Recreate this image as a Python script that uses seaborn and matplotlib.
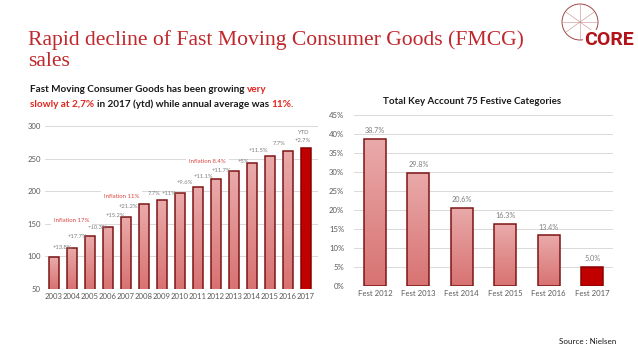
import numpy as np
import pandas as pd
import matplotlib
matplotlib.use("Agg")
import matplotlib.pyplot as plt
import seaborn as sns
from matplotlib.colors import LinearSegmentedColormap
from matplotlib.patches import Circle
from matplotlib.lines import Line2D

# ---------------- data ----------------
years = ["2003", "2004", "2005", "2006", "2007", "2008", "2009", "2010",
         "2011", "2012", "2013", "2014", "2015", "2016", "2017"]
fmcg_index = [99, 113, 131, 145, 160, 180, 186, 197, 206, 219, 231, 243, 254, 262, 266]

growth_labels = ["+13.8%", "+17.7%", "+10.3%", "+15.2%", "+21.2%", "7.7%", "+11%",
                 "+9.6%", "+11.1%", "+11.7%", "+5%", "+11.5%", "7.7%", "YTD\n+2.7%"]
growth_x = [0.46, 1.32, 2.43, 3.39, 4.13, 5.57, 6.37, 7.28, 8.29, 9.3, 10.5, 11.39, 12.5, 13.8]
growth_y = [114, 130, 145, 163, 177, 197, 196, 213, 223, 232, 246, 263, 273, 284]

inflation_labels = ["Inflation 17%", "Inflation 11%", "Inflation 8.4%"]
inflation_x = [0.98, 3.76, 8.54]
inflation_y = [155.5, 192.3, 244.8]

fest_cats = ["Fest 2012", "Fest 2013", "Fest 2014", "Fest 2015", "Fest 2016", "Fest 2017"]
fest_growth = [38.7, 29.8, 20.6, 16.3, 13.4, 5.0]

left_ticks = [50, 100, 150, 200, 250, 300]
right_ticks = [0, 5, 10, 15, 20, 25, 30, 35, 40, 45]

# ---------------- style ----------------
sns.set_theme(style="white")
plt.rcParams["font.family"] = ["Lato", "DejaVu Sans"]

RED = "#c0282d"
EDGE = "#7d1515"
DARK = "#c00000"
GRAY = "#595959"
GRID = "#d9d9d9"
grad_cmap = LinearSegmentedColormap.from_list("g", ["#d87272", "#eaaaaa"])

W, H = 638, 359
fig = plt.figure(figsize=(W / 100, H / 100), dpi=100)
fig.patch.set_facecolor("white")


def fx(px):
    return px / W


def fy(py):
    return 1 - py / H


def gradient_bars(ax, patches, last_color, ymin):
    grad = np.linspace(0, 1, 256).reshape(-1, 1)
    for i, p in enumerate(patches):
        p.set_edgecolor(EDGE if i < len(patches) - 1 else "#8b0000")
        p.set_linewidth(1.1)
        if i == len(patches) - 1:
            p.set_facecolor(last_color)
            continue
        x0, y0, w, h = p.get_x(), p.get_y(), p.get_width(), p.get_height()
        lo = max(y0, ymin)
        im = ax.imshow(grad, extent=[x0, x0 + w, lo, y0 + h], origin="lower",
                       cmap=grad_cmap, aspect="auto", zorder=p.get_zorder() - 0.01,
                       interpolation="bilinear")
        im.set_clip_path(p)
        p.set_facecolor("none")


def style_axes(ax):
    for s in ax.spines.values():
        s.set_visible(False)
    ax.grid(axis="y", color=GRID, linewidth=0.7)
    ax.grid(axis="x", visible=False)
    ax.set_axisbelow(True)
    ax.tick_params(axis="both", length=0, colors=GRAY, labelsize=5.6, pad=3)
    ax.set_xlabel("")
    ax.set_ylabel("")
    ax.set_facecolor("none")


# ---------------- left chart ----------------
axL = fig.add_axes([fx(45), fy(289), fx(318 - 45), (289 - 126) / H])
dfL = pd.DataFrame({"year": years, "value": fmcg_index})
sns.barplot(data=dfL, x="year", y="value", ax=axL, color="#e09090", width=0.53,
            saturation=1)
gradient_bars(axL, list(axL.patches), DARK, 50)
axL.set_xlim(-0.5, 14.67)
axL.set_ylim(50, 300)
axL.set_yticks(left_ticks)
axL.set_yticklabels([str(t) for t in left_ticks])
style_axes(axL)

for s, x, y in zip(growth_labels, growth_x, growth_y):
    axL.text(x, y, s, fontsize=4.2, color="#7f7f7f", ha="center", va="center",
             linespacing=1.6)
for s, x, y in zip(inflation_labels, inflation_x, inflation_y):
    axL.text(x, y, s, fontsize=4.3, color="#d9453f", ha="center", va="center",
             bbox=dict(boxstyle="square,pad=0.5", fc="white", ec="none"), zorder=5)

# ---------------- right chart ----------------
axR = fig.add_axes([fx(354), fy(286), fx(613 - 354), (286 - 115) / H])
dfR = pd.DataFrame({"cat": fest_cats, "growth": fest_growth})
sns.barplot(data=dfR, x="cat", y="growth", ax=axR, color="#e09090", width=0.5,
            saturation=1)
gradient_bars(axR, list(axR.patches), DARK, 0)
axR.set_xlim(-0.48, 5.48)
axR.set_ylim(0, 45)
axR.set_yticks(right_ticks)
axR.set_yticklabels([f"{t}%" for t in right_ticks])
style_axes(axR)
axR.tick_params(axis="y", pad=7)
for i, v in enumerate(fest_growth):
    axR.text(i, v + 1.2, f"{v:.1f}%", fontsize=5.2, color="#7f7f7f",
             ha="center", va="bottom")

fig.text(fx(472), fy(101), "Total Key Account 75 Festive Categories", fontsize=7,
         fontweight="bold", color="#1a1a1a", ha="center", va="center")

# ---------------- slide title ----------------
fig.text(fx(28), fy(40), "Rapid decline of Fast Moving Consumer Goods (FMCG)",
         family=["Liberation Serif"], fontsize=15.6, color=RED, ha="left", va="center")
fig.text(fx(28), fy(62), "sales", family=["Liberation Serif"], fontsize=15.6,
         color=RED, ha="left", va="center")

# ---------------- rich subtitle ----------------
renderer = fig.canvas.get_renderer()


def rich_line(x_px, y_px, parts, size=7.2):
    x = x_px
    probe = fig.text(0, 0, "x x", fontsize=size, fontweight="bold")
    probe2 = fig.text(0, 0, "xx", fontsize=size, fontweight="bold")
    space = probe.get_window_extent(renderer).width - probe2.get_window_extent(renderer).width
    probe.remove()
    probe2.remove()
    for j, (s, c) in enumerate(parts):
        t = fig.text(fx(x), fy(y_px), s, fontsize=size, fontweight="bold", color=c,
                     ha="left", va="center")
        x += t.get_window_extent(renderer).width
        if j < len(parts) - 1:
            x += space


rich_line(30, 89, [("Fast Moving Consumer Goods has been growing", "#1a1a1a"),
                   ("very", "#e0261f")])
rich_line(30, 104, [("slowly at 2,7%", "#e0261f"),
                    ("in 2017 (ytd) while annual average was", "#1a1a1a"),
                    ("11%.", "#e0261f")])

# ---------------- logo & source ----------------
cx, cy, r = 580, 22, 18
circ = Circle((cx / 100, (H - cy) / 100), r / 100, transform=fig.dpi_scale_trans,
              fill=False, ec="#a04848", lw=0.7)
fig.patches.append(circ)
for (x1, y1, x2, y2) in [(580, 4, 580, 40), (566, 12, 594, 32), (566, 32, 594, 12),
                         (562, 22, 598, 22)]:
    fig.lines.append(Line2D([fx(x1), fx(x2)], [fy(y1), fy(y2)],
                            transform=fig.transFigure, color="#c78a8a", lw=0.4))
fig.text(fx(609), fy(40), "CORE", fontsize=14, fontweight="bold",
         family=["Roboto", "DejaVu Sans"], color="#b3121b",
         ha="center", va="center",
         bbox=dict(boxstyle="square,pad=0.05", fc="white", ec="none"))

fig.text(fx(616), fy(341), "Source : Nielsen", fontsize=5.8, color="#1a1a1a",
         ha="right", va="center")

fig.savefig("out.png", dpi=100, facecolor="white")
